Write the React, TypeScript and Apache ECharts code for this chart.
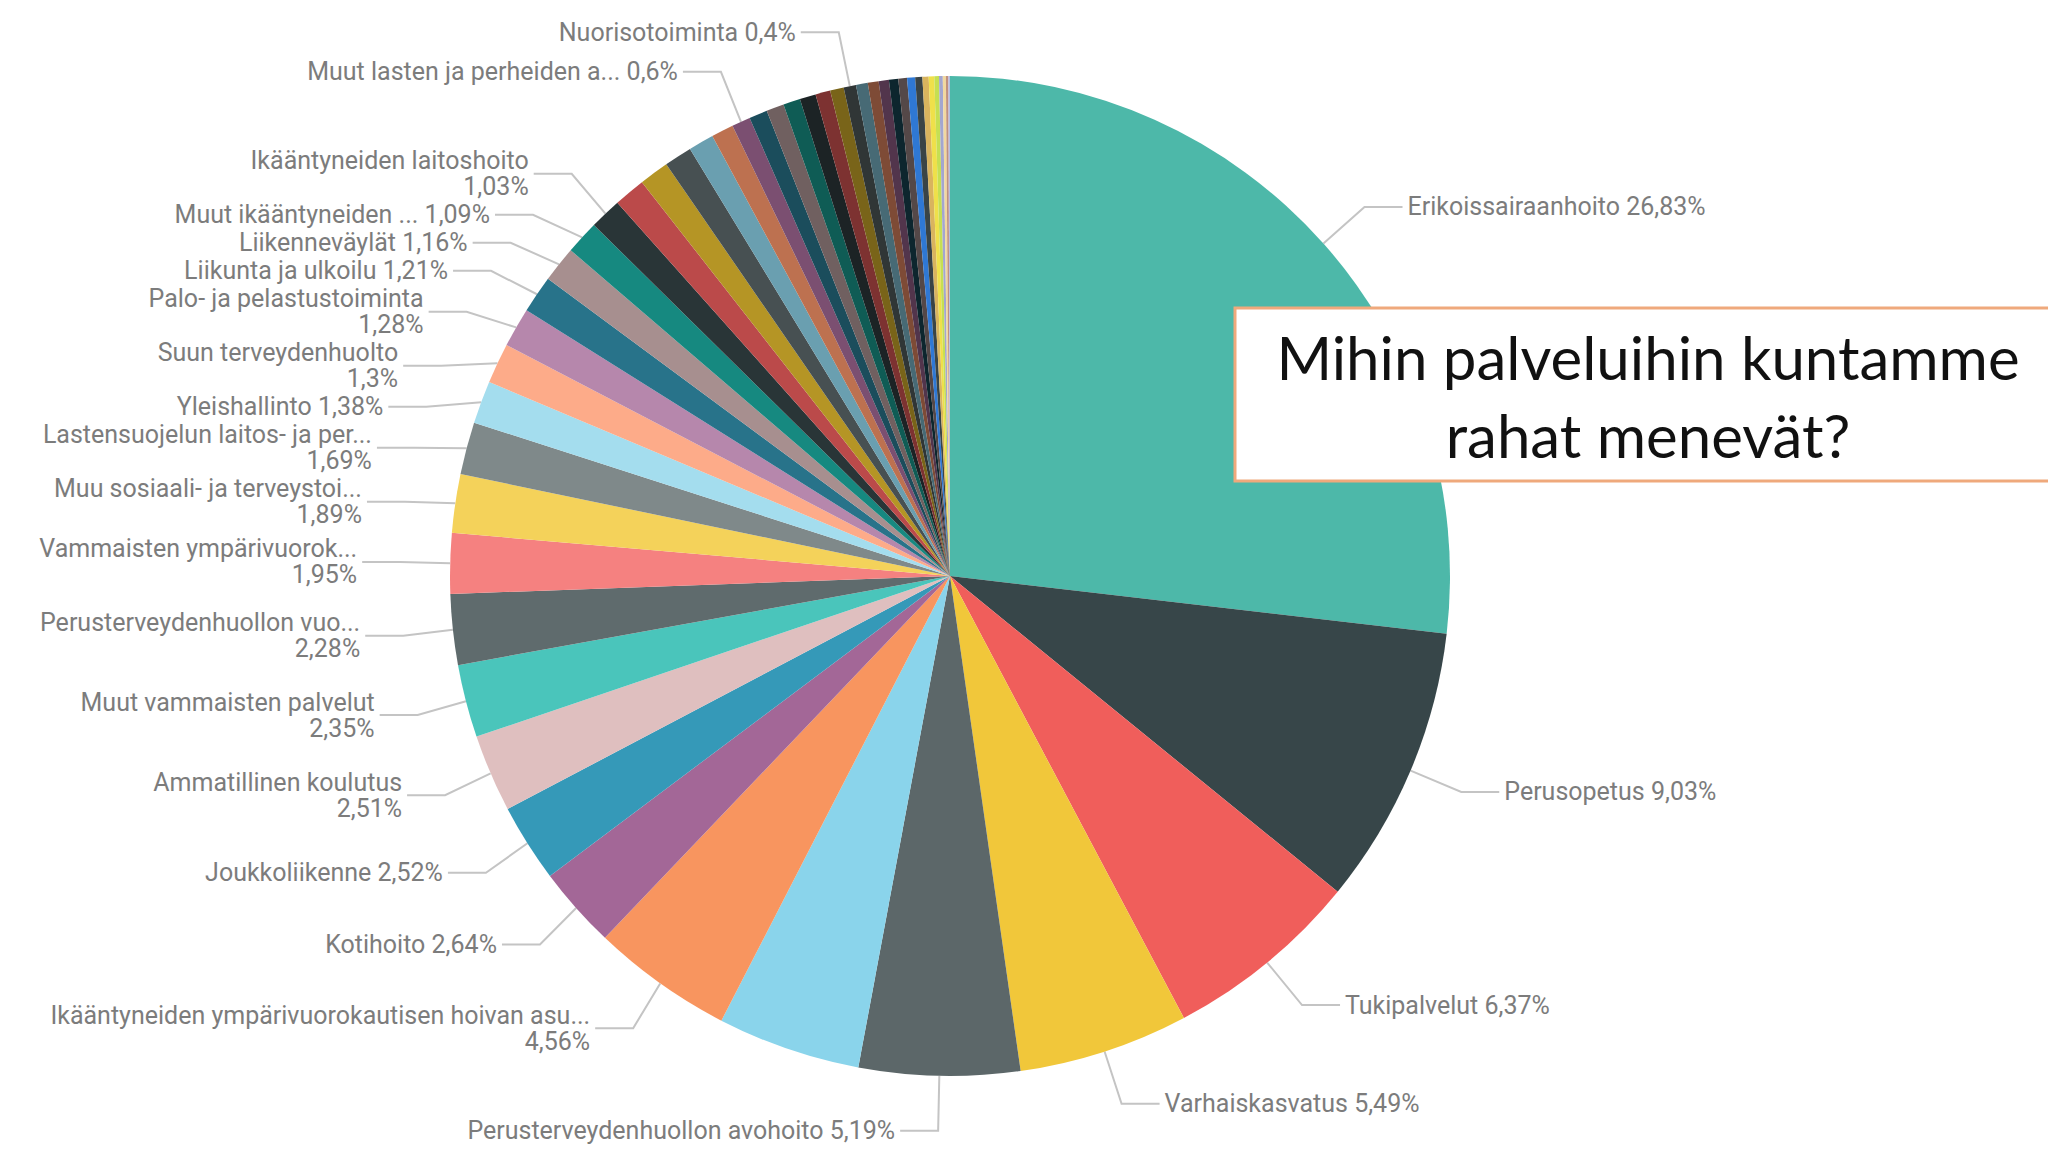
import React, { useEffect, useRef } from "react";
import * as echarts from "echarts";

// Slice names in clockwise order from 12 o'clock (truncated as shown in the source)
const categories: string[] = [
  "Erikoissairaanhoito",
  "Perusopetus",
  "Tukipalvelut",
  "Varhaiskasvatus",
  "Perusterveydenhuollon avohoito",
  "Muu palvelu 6",
  "Ikääntyneiden ympärivuorokautisen hoivan asu...",
  "Kotihoito",
  "Joukkoliikenne",
  "Ammatillinen koulutus",
  "Muut vammaisten palvelut",
  "Perusterveydenhuollon vuo...",
  "Vammaisten ympärivuorok...",
  "Muu sosiaali- ja terveystoi...",
  "Lastensuojelun laitos- ja per...",
  "Yleishallinto",
  "Suun terveydenhuolto",
  "Palo- ja pelastustoiminta",
  "Liikunta ja ulkoilu",
  "Liikenneväylät",
  "Muut ikääntyneiden ...",
  "Ikääntyneiden laitoshoito",
  "Muu palvelu 23",
  "Muu palvelu 24",
  "Muu palvelu 25",
  "Muu palvelu 26",
  "Muu palvelu 27",
  "Muut lasten ja perheiden a...",
  "Muu palvelu 29",
  "Muu palvelu 30",
  "Muu palvelu 31",
  "Muu palvelu 32",
  "Muu palvelu 33",
  "Muu palvelu 34",
  "Nuorisotoiminta",
  "Muu palvelu 36",
  "Muu palvelu 37",
  "Muu palvelu 38",
  "Muu palvelu 39",
  "Muu palvelu 40",
  "Muu palvelu 41",
  "Muu palvelu 42",
  "Muu palvelu 43",
  "Muu palvelu 44",
  "Muu palvelu 45",
  "Muu palvelu 46",
  "Muu palvelu 47",
  "Muu palvelu 48",
  "Muu palvelu 49",
];

// Share of spending, %
const values: number[] = [
  26.83, 9.03, 6.37, 5.49, 5.19, 4.62, 4.56, 2.64, 2.52, 2.51, 2.35, 2.28,
  1.95, 1.89, 1.69, 1.38, 1.3, 1.28, 1.21, 1.16, 1.09, 1.03,
  1.02, 0.96, 0.9, 0.82, 0.72, 0.6,
  0.59, 0.57, 0.55, 0.52, 0.48, 0.44, 0.4,
  0.38, 0.35, 0.33, 0.3, 0.28, 0.26, 0.23, 0.2, 0.18, 0.15, 0.12, 0.1, 0.08, 0.05,
];

// Slices whose label is shown in the source
const labelled: string[] = [
  "Erikoissairaanhoito",
  "Perusopetus",
  "Tukipalvelut",
  "Varhaiskasvatus",
  "Perusterveydenhuollon avohoito",
  "Ikääntyneiden ympärivuorokautisen hoivan asu...",
  "Kotihoito",
  "Joukkoliikenne",
  "Ammatillinen koulutus",
  "Muut vammaisten palvelut",
  "Perusterveydenhuollon vuo...",
  "Vammaisten ympärivuorok...",
  "Muu sosiaali- ja terveystoi...",
  "Lastensuojelun laitos- ja per...",
  "Yleishallinto",
  "Suun terveydenhuolto",
  "Palo- ja pelastustoiminta",
  "Liikunta ja ulkoilu",
  "Liikenneväylät",
  "Muut ikääntyneiden ...",
  "Ikääntyneiden laitoshoito",
  "Muut lasten ja perheiden a...",
  "Nuorisotoiminta",
];

// Labels that wrap the percentage onto a second line
const wrappedLabels: string[] = [
  "Ikääntyneiden ympärivuorokautisen hoivan asu...",
  "Ammatillinen koulutus",
  "Muut vammaisten palvelut",
  "Perusterveydenhuollon vuo...",
  "Vammaisten ympärivuorok...",
  "Muu sosiaali- ja terveystoi...",
  "Lastensuojelun laitos- ja per...",
  "Suun terveydenhuolto",
  "Palo- ja pelastustoiminta",
  "Ikääntyneiden laitoshoito",
];

const palette: string[] = [
  "#4db8a9", "#374649", "#f05e5b", "#f1c73a", "#5c6769", "#8ad4eb", "#f8955f",
  "#a36797", "#3599b8", "#dfbfbf", "#4ac5bb", "#5f6b6d", "#f58180", "#f4d25a",
  "#7f898a", "#a4ddee", "#fdab89", "#b687ac", "#28738a", "#a78f8f", "#168980",
  "#293537", "#bb4a4a", "#b59525", "#475052", "#6a9fb0", "#bd7150", "#7b4f71",
  "#1b4d5c", "#706060", "#0f5c55", "#1c2325", "#7d3231", "#796419", "#303636",
  "#476a75", "#7e4b36", "#52354c", "#0d262e", "#544848", "#2f78d4", "#3a4446",
  "#d9b45e", "#efe04a", "#c6df52", "#a3a6cf", "#f1d8a0", "#c0907f", "#b4bce2",
];

const title = "Mihin palveluihin kuntamme\nrahat menevät?";

const fmt = (v: number) => String(v).replace(".", ",") + "%";

export default function App() {
  const ref = useRef<HTMLDivElement>(null);
  useEffect(() => {
    if (!ref.current) return;
    const chart = echarts.init(ref.current, undefined, { renderer: "svg" });
    const data = categories.map((name, i) => {
      const show = labelled.includes(name);
      return {
        name,
        value: values[i],
        itemStyle: { color: palette[i % palette.length] },
        label: { show },
        labelLine: { show },
      };
    });
    chart.setOption({
      animation: false,
      backgroundColor: "#ffffff",
      series: [
        {
          type: "pie",
          center: [950, 576],
          radius: 500,
          startAngle: 90,
          clockwise: true,
          avoidLabelOverlap: true,
          data,
          itemStyle: { borderWidth: 0 },
          label: {
            position: "outside",
            fontFamily: "Roboto",
            fontSize: 25,
            lineHeight: 26,
            color: "#7c7c7c",
            formatter: (p: any) =>
              wrappedLabels.includes(p.name)
                ? `${p.name}\n${fmt(p.value)}`
                : `${p.name} ${fmt(p.value)}`,
          },
          labelLine: {
            length: 55,
            length2: 38,
            lineStyle: { color: "#c4c4c4", width: 2 },
          },
        },
      ],
      graphic: [
        {
          type: "rect",
          z: 100,
          shape: { x: 1235, y: 308, width: 830, height: 173 },
          style: { fill: "#ffffff", stroke: "#efa97c", lineWidth: 3 },
        },
        {
          type: "text",
          z: 101,
          x: 1648,
          y: 396,
          style: {
            text: title,
            fill: "#111111",
            font: '60px "Lato"',
            lineHeight: 78,
            align: "center",
            verticalAlign: "middle",
          },
        },
      ],
    });
    return () => chart.dispose();
  }, []);
  return (
    <div
      ref={ref}
      style={{ position: "absolute", left: 0, top: 0, width: 2048, height: 1160 }}
    />
  );
}
